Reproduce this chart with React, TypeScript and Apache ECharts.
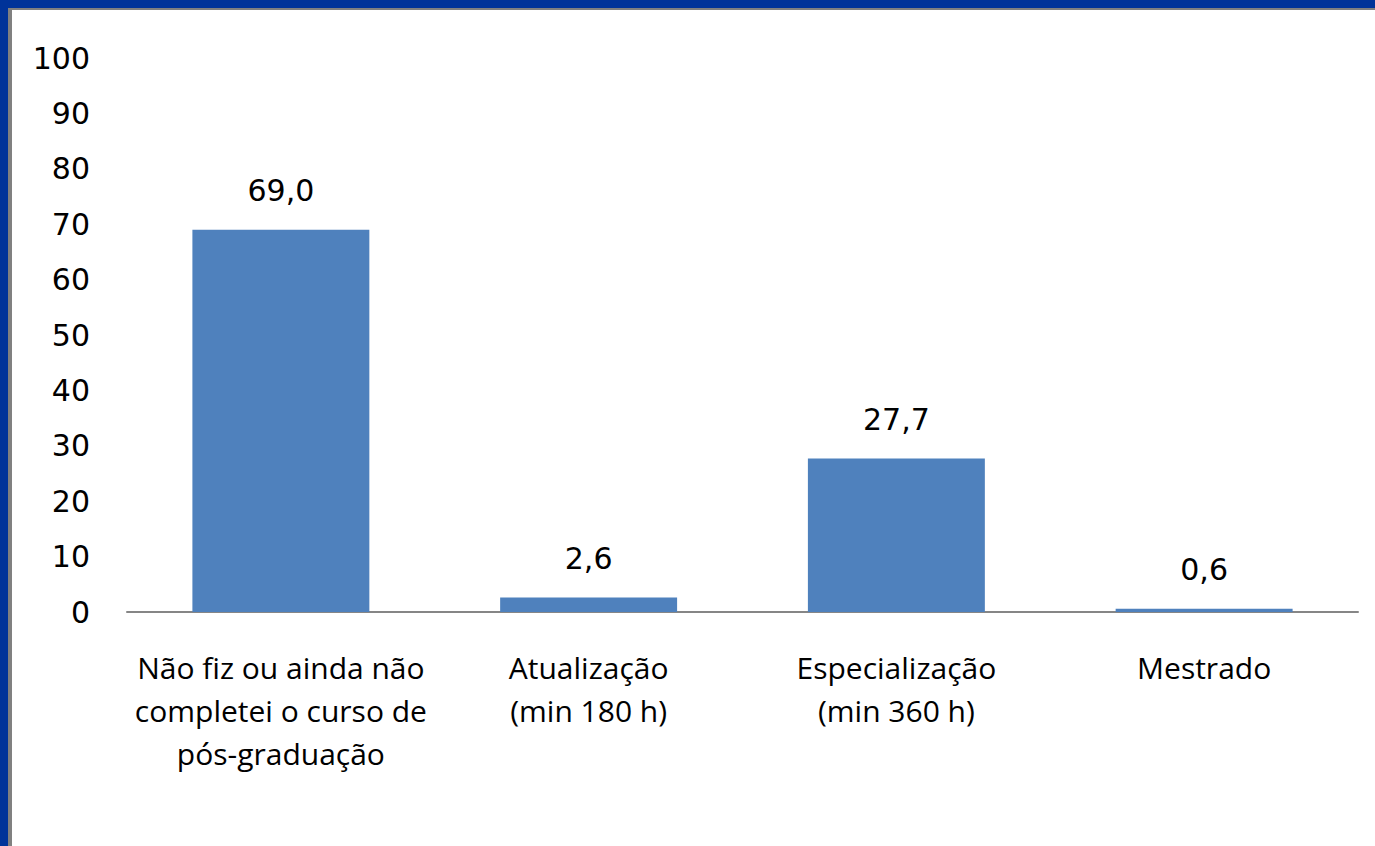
import React, { useEffect, useRef } from "react";
import * as echarts from "echarts";

const categories = [
  "Não fiz ou ainda não\ncompletei o curso de\npós-graduação",
  "Atualização\n(min 180 h)",
  "Especialização\n(min 360 h)",
  "Mestrado",
];
const values = [69.0, 2.6, 27.7, 0.6];
const yTicks = { min: 0, max: 100, interval: 10 };

export default function App() {
  const ref = useRef<HTMLDivElement>(null);
  useEffect(() => {
    if (!ref.current) return;
    const chart = echarts.init(ref.current, undefined, { renderer: "svg" });
    chart.setOption({
      animation: false,
      backgroundColor: "#ffffff",
      grid: { left: 127, right: 17, top: 58, bottom: 234 },
      xAxis: {
        type: "category",
        data: categories,
        axisLine: { show: true, lineStyle: { color: "#868686", width: 2 } },
        axisTick: { show: false },
        axisLabel: {
          interval: 0,
          margin: 34,
          color: "#000000",
          fontFamily: "Open Sans",
          fontSize: 30,
          lineHeight: 43,
        },
      },
      yAxis: {
        type: "value",
        min: yTicks.min,
        max: yTicks.max,
        interval: yTicks.interval,
        axisLine: { show: false },
        axisTick: { show: false },
        splitLine: { show: false },
        axisLabel: {
          margin: 37,
          color: "#000000",
          fontFamily: "DejaVu Sans",
          fontSize: 30,
        },
      },
      series: [
        {
          type: "bar",
          data: values,
          barWidth: "57.5%",
          itemStyle: { color: "#4F81BD" },
          label: {
            show: true,
            position: "top",
            distance: 24,
            color: "#000000",
            fontFamily: "DejaVu Sans",
            fontSize: 30,
            formatter: (p: any) => Number(p.value).toFixed(1).replace(".", ","),
          },
        },
      ],
      graphic: [
        { type: "rect", shape: { x: 0, y: 0, width: 1375, height: 10 }, style: { fill: "#808080" }, z: 100 },
        { type: "rect", shape: { x: 0, y: 0, width: 12, height: 846 }, style: { fill: "#808080" }, z: 100 },
        { type: "rect", shape: { x: 0, y: 0, width: 1375, height: 8 }, style: { fill: "#003399" }, z: 101 },
        { type: "rect", shape: { x: 0, y: 0, width: 8, height: 846 }, style: { fill: "#003399" }, z: 101 },
      ],
    });
    return () => chart.dispose();
  }, []);
  return (
    <div
      ref={ref}
      style={{ position: "fixed", left: 0, top: 0, width: 1375, height: 846, background: "#fff" }}
    />
  );
}
